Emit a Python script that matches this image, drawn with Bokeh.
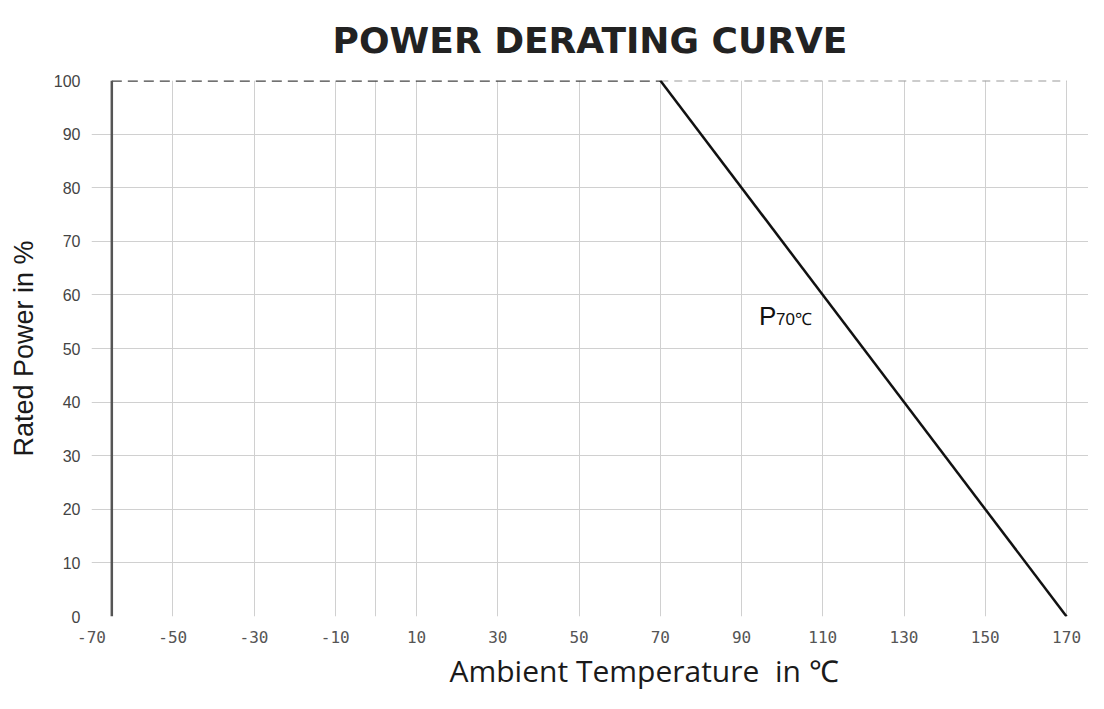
from bokeh.plotting import figure
from bokeh.models import Range1d, FixedTicker, Label, Title
from bokeh.embed import file_html
from bokeh.resources import INLINE

# Data
vert_x = [-65, -65]
vert_y = [0, 100]
flat_x = [-65, 70]
flat_y = [100, 100]
rest_x = [70, 170]
rest_y = [100, 100]
derate_x = [70, 170]
derate_y = [100, 0]
x_ticks = [-70, -50, -30, -10, 10, 30, 50, 70, 90, 110, 130, 150, 170]
x_grid = [-70, -50, -30, -10, 0, 10, 30, 50, 70, 90, 110, 130, 150, 170]
y_ticks = [0, 10, 20, 30, 40, 50, 60, 70, 80, 90, 100]
label_pos = (94.3, 56)

p = figure(width=1088, height=693, output_backend="svg", toolbar_location=None,
           x_range=Range1d(-70, 175.4), y_range=Range1d(0, 100),
           min_border_left=91, min_border_right=0, min_border_bottom=77, min_border_top=80)
p.outline_line_color = None
p.background_fill_color = "white"
p.border_fill_color = "white"

p.title.text = "POWER DERATING CURVE"
p.title.text_font = "DejaVu Sans"
p.title.text_font_size = "36px"
p.title.text_font_style = "bold"
p.title.text_color = "#222222"
p.title.align = "center"
p.title.vertical_align = "top"
p.title.standoff = 35

p.xaxis.ticker = FixedTicker(ticks=x_ticks)
p.xaxis.major_label_overrides = {t: str(t) for t in x_ticks}
p.yaxis.ticker = FixedTicker(ticks=y_ticks)
p.xgrid.ticker = FixedTicker(ticks=x_grid)
p.ygrid.ticker = FixedTicker(ticks=y_ticks)
for g in (p.xgrid, p.ygrid):
    g.grid_line_color = "#d0d0d0"
    g.grid_line_width = 1

for ax in (p.xaxis, p.yaxis):
    ax.axis_line_color = None
    ax.major_tick_line_color = None
    ax.minor_tick_line_color = None

p.xaxis.major_label_text_font = "DejaVu Sans Mono"
p.xaxis.major_label_text_font_size = "16px"
p.xaxis.major_label_text_color = "#555555"
p.xaxis.major_label_standoff = 8
p.yaxis.major_label_text_font = "Liberation Sans"
p.yaxis.major_label_text_font_size = "16px"
p.yaxis.major_label_text_color = "#444444"
p.yaxis.major_label_standoff = 5

p.yaxis.axis_label = "Rated Power in %"
p.yaxis.axis_label_text_font = "Liberation Sans"
p.yaxis.axis_label_text_font_size = "27px"
p.yaxis.axis_label_text_font_style = "normal"
p.yaxis.axis_label_text_color = "#1a1a1a"
p.yaxis.axis_label_standoff = 12

xlabel = Title(text="Ambient Temperature\u00a0 in ℃", align="left", offset=358,
               text_font="Open Sans", text_font_size="30px", text_font_style="normal",
               text_color="#1a1a1a", standoff=5)
p.add_layout(xlabel, "below")

p.line(rest_x, rest_y, line_color="#9a9a9a", line_width=2, line_dash="8 6")
p.line(flat_x, flat_y, line_color="#444444", line_width=2.5, line_dash="10 6")
p.line(vert_x, vert_y, line_color="#555555", line_width=2.5)
p.line(derate_x, derate_y, line_color="#111111", line_width=2.5)

p.add_layout(Label(x=label_pos[0], y=label_pos[1], text="P", text_font="Liberation Sans",
                   text_font_size="26px", text_color="#111111", text_baseline="middle"))
p.add_layout(Label(x=label_pos[0], y=label_pos[1], x_offset=17, y_offset=-3, text="70℃",
                   text_font="Liberation Sans", text_font_size="17px", text_color="#111111",
                   text_baseline="middle"))

open("out.html", "w").write(file_html(p, INLINE))
